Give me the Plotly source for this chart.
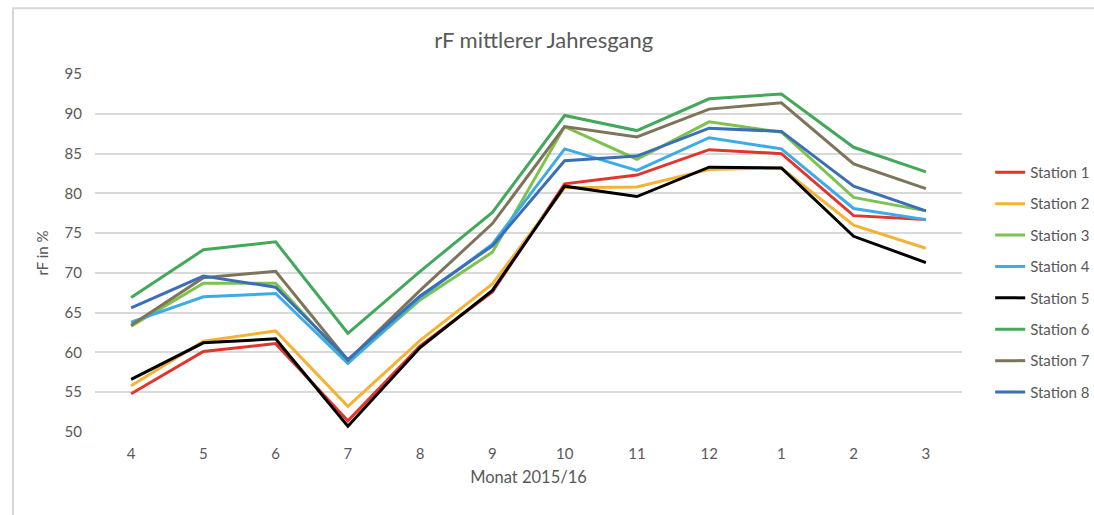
import plotly.graph_objects as go

months = ["4", "5", "6", "7", "8", "9", "10", "11", "12", "1", "2", "3"]

station_1 = [54.8, 60.1, 61.1, 51.4, 60.8, 67.6, 81.2, 82.3, 85.5, 85.0, 77.2, 76.7]
station_2 = [55.8, 61.4, 62.7, 53.2, 61.5, 68.6, 80.7, 80.8, 83.0, 83.2, 76.0, 73.1]
station_3 = [63.3, 68.7, 68.7, 58.7, 66.6, 72.6, 88.4, 84.3, 89.0, 87.7, 79.5, 77.8]
station_4 = [63.8, 67.0, 67.4, 58.6, 66.9, 73.6, 85.6, 82.9, 87.0, 85.6, 78.1, 76.7]
station_5 = [56.6, 61.2, 61.7, 50.7, 60.6, 67.8, 80.9, 79.6, 83.3, 83.2, 74.6, 71.3]
station_6 = [66.9, 72.9, 73.9, 62.4, 70.2, 77.6, 89.8, 87.9, 91.9, 92.5, 85.8, 82.7]
station_7 = [63.4, 69.4, 70.2, 59.0, 67.8, 76.2, 88.4, 87.1, 90.6, 91.4, 83.7, 80.6]
station_8 = [65.6, 69.6, 68.2, 59.1, 67.1, 73.4, 84.1, 84.7, 88.2, 87.8, 80.9, 77.8]

series_names = ["Station 1", "Station 2", "Station 3", "Station 4",
                "Station 5", "Station 6", "Station 7", "Station 8"]
series_values = [station_1, station_2, station_3, station_4,
                 station_5, station_6, station_7, station_8]
series_colors = ["#E3352B", "#F5B335", "#7DC24E", "#3DABE6",
                 "#000000", "#43A95A", "#7E7459", "#3A6FB7"]

y_ticks = [50, 55, 60, 65, 70, 75, 80, 85, 90, 95]

text_color = "#595959"
font_family = "Lato, 'Open Sans', sans-serif"

fig = go.Figure()
x_pos = list(range(len(months)))
for name, vals, col in zip(series_names, series_values, series_colors):
    fig.add_trace(go.Scatter(
        x=x_pos, y=vals, name=name, mode="lines",
        line=dict(color=col, width=3),
        legendgroup=name,
    ))

fig.update_layout(
    width=1094, height=515,
    margin=dict(l=95, r=132, t=74, b=83, autoexpand=False),
    paper_bgcolor="white", plot_bgcolor="white",
    font=dict(family=font_family, color=text_color, size=15),
    title=dict(text="rF mittlerer Jahresgang", x=0.497, xanchor="center",
               y=0.922, yanchor="middle",
               font=dict(size=22, color=text_color, family=font_family)),
    showlegend=True,
    legend=dict(x=1.0325, xanchor="left", y=0.771, yanchor="top",
                font=dict(size=15, color=text_color),
                tracegroupgap=8.9, itemwidth=30,
                bgcolor="rgba(0,0,0,0)"),
    shapes=[dict(type="rect", xref="paper", yref="paper",
                 x0=-0.0946, x1=1.17, y0=-0.3, y1=1.184,
                 line=dict(color="#D6D6D6", width=2),
                 fillcolor="rgba(0,0,0,0)", layer="below")],
)

fig.update_xaxes(
    tickmode="array", tickvals=x_pos, ticktext=months,
    range=[-0.5, len(months) - 0.5],
    showgrid=False, zeroline=False, showline=False, ticks="",
    ticklabelstandoff=11,
    tickfont=dict(size=15, color=text_color),
    title=dict(text="Monat 2015/16", standoff=10,
               font=dict(size=16.5, color=text_color)),
)
fig.update_yaxes(
    tickmode="array", tickvals=y_ticks,
    range=[49.98, 95.02],
    showgrid=True, gridcolor="#D9D9D9", gridwidth=1.5,
    zeroline=False, showline=False, ticks="",
    ticklabelstandoff=12,
    tickfont=dict(size=15, color=text_color),
    title=dict(text="rF in %", standoff=12,
               font=dict(size=15, color=text_color)),
)

fig.write_html("out.html")
